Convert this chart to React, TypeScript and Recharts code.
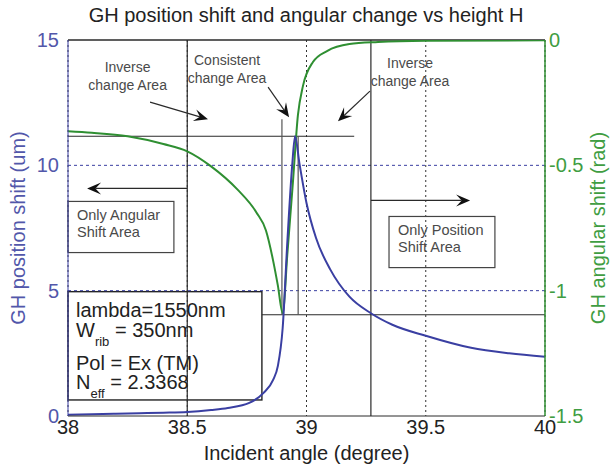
import React from 'react'
import {
  CartesianGrid,
  ComposedChart,
  Line,
  ReferenceArea,
  ReferenceDot,
  ReferenceLine,
  XAxis,
  YAxis
} from 'recharts'

// GH position shift (um), left axis
const POS_ANGLES = [38, 38.1, 38.2, 38.3, 38.4, 38.5, 38.6, 38.67, 38.76, 38.82, 38.86, 38.88, 38.9, 38.92, 38.94, 38.952, 38.97, 39, 39.04, 39.1, 39.18, 39.27, 39.36, 39.5, 39.69, 39.85, 40]
const POS_SHIFT = [0.05, 0.07, 0.09, 0.11, 0.13, 0.16, 0.24, 0.32, 0.52, 0.92, 1.44, 2.0, 3.5, 7.0, 10.0, 11.16, 10.1, 8.5, 7.1, 5.84, 4.76, 4.1, 3.64, 3.2, 2.72, 2.5, 2.36]

// GH angular shift (rad), right axis
const ANG_ANGLES = [38, 38.1, 38.25, 38.4, 38.5, 38.6, 38.71, 38.79, 38.83, 38.86, 38.88, 38.9, 38.92, 38.943, 38.964, 38.985, 39.027, 39.086, 39.18, 39.3, 39.5, 40]
const ANG_SHIFT = [-0.364, -0.37, -0.384, -0.415, -0.444, -0.504, -0.596, -0.688, -0.76, -0.88, -0.98, -1.09, -0.85, -0.568, -0.3, -0.184, -0.088, -0.044, -0.016, -0.008, -0.003, -0.001]

const X_TICKS = [38, 38.5, 39, 39.5, 40]
const POS_TICKS = [0, 5, 10, 15]
const ANG_TICKS = [-1.5, -1, -0.5, 0]

const posData = POS_ANGLES.map((a, i) => ({ a, v: POS_SHIFT[i] }))
const angData = ANG_ANGLES.map((a, i) => ({ a, v: ANG_SHIFT[i] }))

const FONT = "'Liberation Sans', Arial, sans-serif"
const BLUE = '#3a3fa2'
const BLUE_TXT = '#5257aa'
const GREEN = '#2f8f32'
const GREEN_TXT = '#3f9d42'
const INK = '#2a2a2a'
const NOTE = '#4a4a4a'

function Arrow(p: any) {
  const { x1, y1, x2, y2 } = p
  const ang = Math.atan2(y2 - y1, x2 - x1)
  const c = Math.cos(ang)
  const s = Math.sin(ang)
  const L = 14
  const W = 6
  const bx = x2 - L * c
  const by = y2 - L * s
  const nx = x2 - L * 0.6 * c
  const ny = y2 - L * 0.6 * s
  const pts = [
    [x2, y2],
    [bx - W * s, by + W * c],
    [nx, ny],
    [bx + W * s, by - W * c]
  ]
  return (
    <g>
      <line x1={x1} y1={y1} x2={nx} y2={ny} stroke={INK} strokeWidth={1.2} />
      <polygon points={pts.map((q) => q.join(',')).join(' ')} fill="#111" />
    </g>
  )
}

function note(lines: string[]) {
  return (p: any) => (
    <text x={p.cx} y={p.cy - 4} textAnchor="middle" fontFamily={FONT} fontSize={14} fill={NOTE}>
      {lines.map((t, i) => (
        <tspan key={i} x={p.cx} dy={i === 0 ? 0 : 18}>
          {t}
        </tspan>
      ))}
    </text>
  )
}

function boxWith(lines: string[]) {
  return (p: any) => (
    <g>
      <rect x={p.x} y={p.y} width={p.width} height={p.height} fill="none" stroke="#444" strokeWidth={1.2} />
      <text x={p.x + 9} y={p.y + 19} fontFamily={FONT} fontSize={14.5} fill={NOTE}>
        {lines.map((t, i) => (
          <tspan key={i} x={p.x + 9} dy={i === 0 ? 0 : 17}>
            {t}
          </tspan>
        ))}
      </text>
    </g>
  )
}

function ParamBox(p: any) {
  const x = p.x + 8
  const st = { fontFamily: FONT, fontSize: 20, fill: '#222' }
  return (
    <g>
      <rect x={p.x} y={p.y} width={p.width} height={p.height} fill="none" stroke="#222" strokeWidth={1.4} />
      <text x={x} y={p.y + 25} {...st}>lambda=1550nm</text>
      <text x={x} y={p.y + 45} {...st}>
        W<tspan fontSize={13} dy={9}>rib</tspan>
        <tspan dy={-9}> = 350nm</tspan>
      </text>
      <text x={x} y={p.y + 78} {...st}>Pol = Ex (TM)</text>
      <text x={x} y={p.y + 97} {...st}>
        N<tspan fontSize={13} dy={9}>eff</tspan>
        <tspan dy={-9}> = 2.3368</tspan>
      </text>
    </g>
  )
}

export default function App() {
  return (
    <div style={{ position: 'absolute', left: 0, top: 0, width: 612, height: 471, background: '#fff' }}>
      <div
        style={{
          position: 'absolute',
          left: 0,
          top: 3,
          width: 612,
          textAlign: 'center',
          fontFamily: FONT,
          fontSize: 20,
          lineHeight: '24px',
          color: '#222'
        }}
      >
        GH position shift and angular change vs height H
      </div>
      <ComposedChart width={612} height={471} margin={{ top: 40, right: 0, left: 0, bottom: 0 }}>
        <CartesianGrid yAxisId="pos" horizontal={false} stroke="#333" strokeDasharray="2 3" />
        <XAxis
          dataKey="a"
          type="number"
          domain={[38, 40]}
          ticks={X_TICKS}
          allowDataOverflow
          stroke={INK}
          tickLine={false}
          tickSize={0}
          tickMargin={4}
          height={55}
          tick={{ fill: '#222', fontSize: 20, fontFamily: FONT }}
          label={{ value: 'Incident angle (degree)', position: 'insideBottom', offset: 11, fill: '#222', fontSize: 20, fontFamily: FONT }}
        />
        <YAxis
          yAxisId="pos"
          domain={[0, 15]}
          ticks={POS_TICKS}
          allowDataOverflow
          width={68}
          stroke={BLUE}
          tickLine={false}
          tickSize={0}
          tickMargin={9}
          tick={{ fill: BLUE_TXT, fontSize: 20, fontFamily: FONT }}
          label={{ value: 'GH position shift (um)', angle: -90, position: 'insideLeft', offset: 18, style: { textAnchor: 'middle' }, fill: BLUE_TXT, fontSize: 20, fontFamily: FONT }}
        />
        <YAxis
          yAxisId="ang"
          orientation="right"
          domain={[-1.5, 0]}
          ticks={ANG_TICKS}
          allowDataOverflow
          width={67}
          stroke={GREEN}
          strokeWidth={1.5}
          tickLine={false}
          tickSize={0}
          tickMargin={4}
          tick={{ fill: GREEN_TXT, fontSize: 20, fontFamily: FONT }}
          label={{ value: 'GH angular shift (rad)', angle: -90, position: 'insideRight', offset: 14, style: { textAnchor: 'middle' }, fill: GREEN_TXT, fontSize: 20, fontFamily: FONT }}
        />

        {/* grid */}
        <ReferenceLine yAxisId="pos" y={10} stroke={BLUE} strokeDasharray="3 3" />
        <ReferenceLine yAxisId="pos" y={5} stroke={BLUE} strokeDasharray="3 3" />
        <ReferenceLine yAxisId="pos" y={15} stroke={INK} strokeWidth={1.5} />

        {/* region lines */}
        <ReferenceLine yAxisId="pos" x={38.5} stroke={INK} strokeWidth={1.2} />
        <ReferenceLine yAxisId="pos" x={39.27} stroke={INK} strokeWidth={1.2} />
        <ReferenceLine yAxisId="pos" segment={[{ x: 38, y: 11.16 }, { x: 39.2, y: 11.16 }]} stroke={INK} strokeWidth={1.2} />
        <ReferenceLine yAxisId="pos" segment={[{ x: 38.813, y: 4.04 }, { x: 40, y: 4.04 }]} stroke={INK} strokeWidth={1.2} />
        <ReferenceLine yAxisId="pos" segment={[{ x: 38.897, y: 4.04 }, { x: 38.897, y: 11.84 }]} stroke="#555" strokeWidth={1.2} />
        <ReferenceLine yAxisId="pos" segment={[{ x: 38.965, y: 4.04 }, { x: 38.965, y: 11.16 }]} stroke="#555" strokeWidth={1.2} />

        {/* arrows */}
        <ReferenceLine yAxisId="pos" segment={[{ x: 38.5, y: 9.08 }, { x: 38.08, y: 9.08 }]} shape={Arrow} />
        <ReferenceLine yAxisId="pos" segment={[{ x: 39.27, y: 8.6 }, { x: 39.686, y: 8.6 }]} shape={Arrow} />
        <ReferenceLine yAxisId="pos" segment={[{ x: 38.344, y: 12.52 }, { x: 38.587, y: 11.84 }]} shape={Arrow} />
        <ReferenceLine yAxisId="pos" segment={[{ x: 38.839, y: 13.12 }, { x: 38.927, y: 11.92 }]} shape={Arrow} />
        <ReferenceLine yAxisId="pos" segment={[{ x: 39.266, y: 12.96 }, { x: 39.132, y: 11.76 }]} shape={Arrow} />

        {/* boxes */}
        <ReferenceArea yAxisId="pos" x1={38} x2={38.444} y1={6.52} y2={8.56} shape={boxWith(['Only Angular', 'Shift Area'])} />
        <ReferenceArea yAxisId="pos" x1={39.346} x2={39.79} y1={5.92} y2={7.96} shape={boxWith(['Only Position', 'Shift Area'])} />
        <ReferenceArea yAxisId="pos" x1={38} x2={38.813} y1={0.64} y2={4.96} shape={ParamBox} />

        {/* notes */}
        <ReferenceDot yAxisId="pos" x={38.25} y={13.56} r={0} shape={note(['Inverse', 'change Area'])} />
        <ReferenceDot yAxisId="pos" x={38.667} y={13.86} r={0} shape={note(['Consistent', 'change Area'])} />
        <ReferenceDot yAxisId="pos" x={39.434} y={13.74} r={0} shape={note(['Inverse', 'change Area'])} />

        <Line
          yAxisId="ang"
          data={angData}
          dataKey="v"
          type="monotone"
          stroke={GREEN}
          strokeWidth={2}
          dot={false}
          isAnimationActive={false}
        />
        <Line
          yAxisId="pos"
          data={posData}
          dataKey="v"
          type="monotone"
          stroke={BLUE}
          strokeWidth={2}
          dot={false}
          isAnimationActive={false}
        />
      </ComposedChart>
    </div>
  )
}
